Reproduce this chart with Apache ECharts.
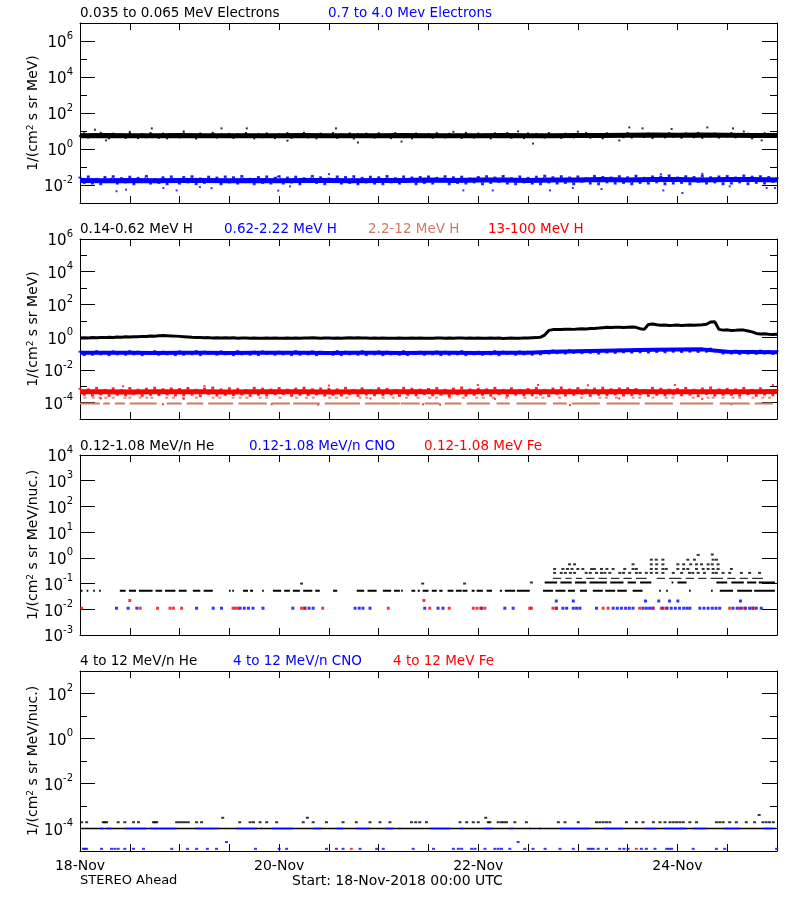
<!DOCTYPE html>
<html><head><meta charset="utf-8">
<script src="https://cdn.jsdelivr.net/npm/echarts@6/dist/echarts.min.js"></script>
<style>html,body{margin:0;padding:0;background:#fff}#c{width:800px;height:900px}</style>
</head><body><div id="c"></div>
<script>
const FONT = 'DejaVu Sans';
const BLACK = '#000000', BLUE = '#0000ff', RED = '#ff0000', BROWN = '#cd7b64';

const xLabelHours = [0, 48, 96, 144];
const xLabels = ['18-Nov', '20-Nov', '22-Nov', '24-Nov'];

// band cores, one value every 6 hours
const elecLowCore = [5.5,5.6,5.4,5.5,5.6,5.5,5.4,5.5,5.5,5.6,5.4,5.5,5.5,5.6,5.5,5.4,5.5,5.6,5.5,5.5,5.6,5.7,5.8,5.9,5.8,5.9,5.8,5.7,5.6];
const elecHighCore = [0.018,0.017,0.018,0.017,0.018,0.018,0.017,0.018,0.017,0.018,0.018,0.017,0.018,0.018,0.019,0.018,0.019,0.019,0.018,0.019,0.019,0.02,0.019,0.02,0.02,0.019,0.02,0.02,0.019];
const hMidCore = [0.11,0.11,0.112,0.108,0.11,0.11,0.108,0.11,0.112,0.11,0.108,0.11,0.11,0.108,0.11,0.11,0.108,0.11,0.112,0.13,0.14,0.15,0.16,0.17,0.175,0.18,0.13,0.125,0.12];
const hHighCore = [4.6e-4,4.7e-4,4.5e-4,4.6e-4,4.7e-4,4.6e-4,4.5e-4,4.6e-4,4.7e-4,4.6e-4,4.5e-4,4.6e-4,4.6e-4,4.7e-4,4.6e-4,4.5e-4,4.6e-4,4.7e-4,4.6e-4,4.6e-4,4.7e-4,4.6e-4,4.8e-4,4.7e-4,4.6e-4,4.7e-4,4.6e-4,4.7e-4,4.8e-4];

// hourly spread samples
const elecLow = [
 5.2,7.4,4.3,6.8,4.6,7.9,5.0,3.9,7.1,4.8,6.5,4.1,
 7.6,5.3,4.0,6.9,4.5,7.8,5.6,4.2,7.2,3.9,6.6,5.1,
 4.4,7.5,4.9,6.1,3.8,7.3,5.4,4.6,7.9,4.3,6.4,5.0,
 7.0,4.1,6.7,4.7,7.7,5.5,3.9,6.9,4.5,7.4,5.2,4.0,
 6.8,4.8,7.6,4.2,6.3,5.1,7.9,4.4,6.0,3.9,7.2,5.3,
 4.6,7.8,4.1,6.6,5.0,7.4,3.8,6.9,4.7,7.1,5.6,4.3,
 7.5,4.9,6.2,4.0,7.7,5.4,4.5,6.8,3.9,7.3,5.0,4.6,
 6.9,4.2,7.6,5.2,4.4,7.0,4.8,6.5,4.1,7.9,5.5,4.3,
 7.2,4.7,6.4,3.9,7.5,5.1,4.6,7.8,4.2,6.7,5.3,4.0,
 7.4,4.5,6.9,5.0,4.3,7.7,4.8,6.2,4.1,7.1,5.6,4.4,
 6.6,4.9,7.9,4.2,6.8,5.2,3.9,7.5,4.7,6.3,5.4,4.5,
 7.8,4.3,6.7,5.1,4.6,7.2,4.0,6.9,5.5,4.4,7.6,4.8,
 6.1,4.2,7.4,5.3,4.5,7.9,4.1,6.6,5.0,7.3,4.3,6.8,
 4.9,7.7,4.4,6.4,5.2,7.0,3.9,6.9,4.6,7.5,4.8,6.2,
 5.1];
const elecLowOut = [[3.6,11.8],[6.3,3.0],[12,9],[17.3,14],[25,9.5],[34.1,14],[40.2,14],[50,2.9],[61.7,14],[67,2.3],[77.5,2.6],[90,9],[105.6,9.5],[109.2,2.0],[120,9.2],[130,3.0],[132.4,15.8],[135.6,14],[142.6,13],[151.2,15.8],[157.4,14],[160,9.4],[164.3,3.0]];
const elecHigh = [
 0.026,0.013,0.030,0.012,0.022,0.011,0.028,0.015,0.031,0.012,0.024,0.014,
 0.029,0.011,0.025,0.016,0.032,0.012,0.021,0.013,0.027,0.011,0.030,0.015,
 0.012,0.028,0.014,0.031,0.011,0.023,0.013,0.029,0.016,0.026,0.011,0.030,
 0.014,0.027,0.012,0.032,0.015,0.022,0.011,0.028,0.013,0.030,0.012,0.025,
 0.031,0.012,0.026,0.014,0.029,0.011,0.024,0.016,0.032,0.013,0.027,0.011,
 0.023,0.015,0.030,0.012,0.028,0.013,0.031,0.011,0.025,0.014,0.029,0.012,
 0.027,0.011,0.032,0.014,0.024,0.012,0.030,0.015,0.026,0.011,0.028,0.013,
 0.030,0.012,0.025,0.016,0.031,0.011,0.027,0.013,0.029,0.012,0.023,0.014,
 0.028,0.011,0.031,0.013,0.026,0.015,0.032,0.012,0.024,0.011,0.030,0.014,
 0.025,0.012,0.029,0.011,0.033,0.014,0.027,0.012,0.031,0.013,0.026,0.011,
 0.030,0.015,0.024,0.012,0.032,0.011,0.028,0.014,0.026,0.012,0.031,0.013,
 0.027,0.011,0.033,0.013,0.025,0.012,0.030,0.014,0.029,0.011,0.034,0.012,
 0.026,0.013,0.031,0.011,0.028,0.015,0.033,0.012,0.027,0.014,0.030,0.011,
 0.032,0.012,0.026,0.014,0.034,0.011,0.029,0.013,0.031,0.012,0.028,0.015,
 0.024];
const elecHighOut = [[8.8,0.0045],[11.1,0.0055],[20.1,0.0068],[23.3,0.005],[28.9,0.0078],[31.7,0.0066],[47.8,0.0049],[50.6,0.0084],[60,0.04],[92.4,0.005],[99.5,0.005],[113.3,0.005],[118.8,0.0068],[125.7,0.006],[140,0.04],[140.6,0.005],[145.2,0.0036],[150,0.042],[156.6,0.0084],[165.5,0.0068],[167.5,0.0068]];

const hLow = [
 0.90,0.93,0.89,0.95,0.92,0.97,0.94,0.99,0.96,1.02,0.98,1.05,
 1.03,1.08,1.06,1.12,1.10,1.18,1.15,1.22,1.28,1.24,1.20,1.16,
 1.12,1.08,1.04,1.00,0.97,0.95,0.92,0.94,0.90,0.92,0.89,0.91,
 0.88,0.91,0.87,0.90,0.88,0.86,0.89,0.87,0.85,0.88,0.86,0.89,
 0.87,0.85,0.88,0.86,0.89,0.87,0.90,0.88,0.91,0.89,0.87,0.90,
 0.88,0.86,0.89,0.87,0.90,0.92,0.89,0.91,0.88,0.90,0.87,0.89,
 0.86,0.88,0.85,0.87,0.86,0.88,0.85,0.87,0.89,0.86,0.88,0.85,
 0.87,0.85,0.88,0.90,0.87,0.89,0.86,0.88,0.90,0.87,0.89,0.86,
 0.88,0.85,0.87,0.89,0.86,0.88,0.84,0.86,0.88,0.85,0.87,0.89,
 0.90,0.92,0.94,1.00,1.35,2.60,2.90,3.00,2.95,3.05,3.10,3.00,
 3.15,3.25,3.20,3.35,3.45,3.60,3.80,4.00,3.95,4.05,4.10,3.95,
 4.05,4.15,4.00,3.30,3.00,6.00,6.40,5.80,5.40,5.60,5.20,5.30,
 5.50,5.20,5.40,5.60,5.30,5.50,5.70,6.20,8.50,8.80,3.00,2.70,
 2.80,2.60,2.65,2.75,2.70,2.40,2.10,1.70,1.55,1.60,1.50,1.45,
 1.50];
const hMid = [
 0.13,0.08,0.12,0.085,0.14,0.09,0.125,0.08,0.135,0.09,0.12,0.085,
 0.14,0.09,0.13,0.08,0.125,0.095,0.14,0.085,0.13,0.09,0.12,0.08,
 0.135,0.085,0.12,0.09,0.14,0.08,0.13,0.095,0.12,0.085,0.135,0.09,
 0.125,0.08,0.14,0.09,0.12,0.085,0.13,0.08,0.135,0.095,0.12,0.085,
 0.13,0.09,0.125,0.08,0.14,0.085,0.12,0.09,0.135,0.08,0.13,0.095,
 0.12,0.085,0.14,0.08,0.13,0.09,0.125,0.085,0.14,0.08,0.12,0.09,
 0.135,0.08,0.13,0.09,0.12,0.085,0.14,0.08,0.125,0.095,0.13,0.085,
 0.12,0.09,0.135,0.08,0.13,0.085,0.12,0.09,0.14,0.08,0.125,0.09,
 0.13,0.085,0.12,0.09,0.14,0.08,0.13,0.095,0.125,0.085,0.135,0.09,
 0.13,0.085,0.125,0.09,0.14,0.10,0.155,0.105,0.145,0.10,0.16,0.11,
 0.15,0.105,0.16,0.11,0.155,0.10,0.165,0.115,0.16,0.11,0.17,0.12,
 0.165,0.115,0.175,0.12,0.17,0.115,0.18,0.125,0.175,0.12,0.185,0.13,
 0.18,0.125,0.19,0.13,0.185,0.125,0.19,0.13,0.20,0.135,0.15,0.10,
 0.145,0.10,0.15,0.095,0.14,0.10,0.145,0.095,0.15,0.10,0.14,0.095,
 0.14];
const hHigh = [
 7e-4,3e-4,6.5e-4,2.7e-4,8e-4,3.3e-4,6e-4,2.6e-4,7.5e-4,3.1e-4,5.8e-4,2.8e-4,
 7.8e-4,3.4e-4,6.2e-4,2.6e-4,7.2e-4,3e-4,8.2e-4,2.9e-4,6.6e-4,3.2e-4,7.4e-4,2.7e-4,
 6.8e-4,2.8e-4,7.9e-4,3.1e-4,6.1e-4,2.5e-4,7.3e-4,3.4e-4,8.4e-4,2.7e-4,6.4e-4,3e-4,
 7.6e-4,2.9e-4,6.9e-4,3.2e-4,5.9e-4,2.6e-4,8.1e-4,3e-4,7.1e-4,2.8e-4,6.3e-4,3.3e-4,
 7.8e-4,3.4e-4,6.2e-4,2.6e-4,7.2e-4,3e-4,8.2e-4,2.9e-4,6.6e-4,3.2e-4,7.4e-4,2.7e-4,
 7e-4,3e-4,6.5e-4,2.7e-4,8e-4,3.3e-4,6e-4,2.6e-4,7.5e-4,3.1e-4,5.8e-4,2.8e-4,
 7.6e-4,2.9e-4,6.9e-4,3.2e-4,5.9e-4,2.6e-4,8.1e-4,3e-4,7.1e-4,2.8e-4,6.3e-4,3.3e-4,
 6.8e-4,2.8e-4,7.9e-4,3.1e-4,6.1e-4,2.5e-4,7.3e-4,3.4e-4,8.4e-4,2.7e-4,6.4e-4,3e-4,
 7e-4,3e-4,6.5e-4,2.7e-4,8e-4,3.3e-4,6e-4,2.6e-4,7.5e-4,3.1e-4,5.8e-4,2.8e-4,
 6.8e-4,2.8e-4,7.9e-4,3.1e-4,6.1e-4,2.5e-4,7.3e-4,3.4e-4,8.4e-4,2.7e-4,6.4e-4,3e-4,
 7.8e-4,3.4e-4,6.2e-4,2.6e-4,7.2e-4,3e-4,8.2e-4,2.9e-4,6.6e-4,3.2e-4,7.4e-4,2.7e-4,
 7.6e-4,2.9e-4,6.9e-4,3.2e-4,5.9e-4,2.6e-4,8.1e-4,3e-4,7.1e-4,2.8e-4,6.3e-4,3.3e-4,
 6.8e-4,2.8e-4,7.9e-4,3.1e-4,6.1e-4,2.5e-4,7.3e-4,3.4e-4,8.4e-4,2.7e-4,6.4e-4,3e-4,
 7e-4,3e-4,6.5e-4,2.7e-4,8e-4,3.3e-4,6e-4,2.6e-4,7.5e-4,3.1e-4,5.8e-4,2.8e-4,
 6e-4];
const hHighOut = [[5,1.8e-4],[10.4,1.0e-3],[20,8e-5],[25,1.7e-4],[30,1.05e-3],[46.2,8e-5],[57.4,7.5e-5],[60,1.1e-3],[70,1.8e-4],[82.7,8e-5],[86.8,7.5e-5],[95.9,1.2e-3],[100,1.7e-4],[110.4,1.2e-3],[118.1,7e-5],[122.4,1.15e-3],[130,1.8e-4],[143.4,1.2e-3],[150,1.7e-4],[157,8e-5],[167,1.2e-3]];
const hMidHiLevel = 9e-5;
const hMidHiRuns = [[0,4.8],[5.6,7.2],[8.4,10.8],[12,18.5],[20.9,24.5],[25.7,29.7],[30.9,36.9],[38.2,45],[46.2,50.6],[51.4,57.8],[59,67.5],[68.7,77.1],[77.3,81.9],[83.1,86.7],[87.9,91.9],[93.2,98.8],[100.4,103.6],[105.2,112.4],[114,117.3],[118.5,125.3],[126.9,134.9],[136.1,142.9],[144.6,152.6],[154.2,161.4],[162.6,167]];
const hMidHiPts = [[1.2,2e-4],[3.2,2e-4],[4.8,2e-4],[6.2,2e-4],[8,2e-4],[10.8,2e-4],[12,2e-4],[14.5,2e-4],[16.1,2e-4],[17.3,2e-4],[20.9,2e-4],[22.5,2e-4],[24.9,2e-4],[28.1,2e-4],[32.1,2e-4],[33.7,2e-4],[36.9,2e-4],[38.6,2e-4],[40.2,2e-4],[43.4,2e-4],[45,2e-4],[48.2,2e-4],[52.2,2e-4],[54.6,2e-4],[56.2,2e-4],[60.2,2e-4],[61.8,2e-4],[64.3,2e-4],[67.5,2e-4],[69.1,2e-4],[73.1,2e-4],[75.5,2e-4],[78.7,2e-4],[81.5,2e-4],[84.3,2e-4],[85.9,2e-4],[89.1,2e-4],[92.4,2e-4],[95.6,2e-4],[97.2,2e-4],[99.6,2e-4],[102.8,2e-4],[107.2,2e-4],[110,2e-4],[111.6,2e-4],[115.6,2e-4],[120.9,2e-4],[125.3,2e-4],[126.9,2e-4],[129.3,2e-4],[133.3,2e-4],[134.9,2e-4],[138.1,2e-4],[141.3,2e-4],[142.9,2e-4],[147.8,2e-4],[151.4,2e-4],[152.6,2e-4],[155,2e-4],[157.4,2e-4],[159,2e-4],[162.2,2e-4],[164.6,2e-4],[166.2,2e-4]];

const heLoBaseLevel = 0.053;
const heLoBaseRuns = [[0.2,0.6],[1.6,2.0],[3.2,3.6],[4.6,5.0],[9.6,11],[11.8,13.5],[14.2,17.5],[18.2,19.8],[20.5,23],[23.8,25.7],[27.2,29],[29.8,32],[35.9,36.3],[36.7,37.1],[39.3,40.5],[41,41.7],[43.9,44.3],[46.5,48.5],[49.2,50.6],[51.3,53],[53.8,56],[56.7,57.8],[61,62],[66.7,68.5],[69.3,71.5],[73,75],[75.7,77.1],[77.4,77.8],[79.9,80.8],[81.4,81.9],[82.6,84],[84.8,86],[86.6,87.4],[88.6,90],[90.6,92],[92.2,93.4],[94.4,95.1],[95.6,97.1],[98,99.3],[101.2,101.7],[102.4,104.9],[105.3,108.4],[111.6,114],[114.6,117],[117.6,119.3],[120.5,122.2],[123.6,126],[126.6,129],[129.5,131.8],[133.2,135.6],[139.6,140],[141.3,141.7],[146.8,147.2],[152.1,152.5],[154.2,157.4],[158.4,162],[162.5,167.5]];
const heLoRow2Level = 0.11;
const heLoRow2Runs = [[112,115],[115.8,118.5],[119.3,122],[122.8,127],[127.8,131],[132,134],[135,137.7],[142.6,143],[144,146.2],[153.4,156],[157,160],[160.8,163],[163.6,167.5]];
const heLoRow3Level = 0.16;
const heLoRow3Runs = [[114,116],[117,118.5],[119.5,121],[122,124],[125,127],[128,130],[131,133],[134,136.6],[139,141],[142,145],[146,148],[149,151],[152,155],[156,158],[159,161],[162,164.6]];
const heLoPts = [[53.4,0.1],[82.6,0.1],[92.7,0.1],[108.8,0.11],
 [114.4,0.26],[116,0.26],[117,0.26],[118.2,0.26],[119.2,0.26],[122,0.26],[123,0.26],[124.5,0.26],[125.7,0.26],[126.5,0.26],[127.7,0.26],[130.1,0.26],[131,0.26],[132.5,0.26],[134.1,0.26],[135,0.26],[136.5,0.26],[137.7,0.26],[139,0.26],[140.5,0.26],[143,0.26],[145,0.26],[146.9,0.26],[147.7,0.26],[149,0.26],[150.5,0.26],[152.6,0.26],[153.4,0.26],[155,0.26],[156.6,0.26],[159.4,0.26],[161.4,0.26],[163.8,0.26],
 [114.4,0.37],[116.4,0.37],[117.5,0.37],[118.6,0.37],[120,0.37],[121.2,0.37],[123.3,0.37],[124,0.37],[125.7,0.37],[127,0.37],[128.5,0.37],[131.3,0.37],[133.3,0.37],[134.1,0.37],[137.7,0.37],[138.9,0.37],[140.5,0.37],[141.3,0.37],[144.1,0.37],[145.5,0.37],[146.5,0.37],[148.6,0.37],[150.2,0.37],[151.4,0.37],[152.6,0.37],[153.8,0.37],[157,0.37],
 [118,0.56],[119.2,0.56],[133.3,0.56],[137.7,0.56],[139,0.56],[140.5,0.56],[144.1,0.56],[145.5,0.56],[147.2,0.56],[148.6,0.56],[149.8,0.56],[151.4,0.56],[152.4,0.56],[153.8,0.56],
 [137.7,0.85],[138.9,0.85],[140.5,0.85],[146.5,0.85],[148.1,0.85],[152.6,0.85],[153.4,0.85],[149,1.3],[152.4,1.35]];
const cnoLoPts = [[8.8,0.011],[11.6,0.011],[13.7,0.011],[28.1,0.011],[32.1,0.011],[34.1,0.011],[38.6,0.011],[39.6,0.011],[40.6,0.011],[41.7,0.011],[44.1,0.011],[51.3,0.011],[54.2,0.011],[55.2,0.011],[56.2,0.011],[66.3,0.011],[67.3,0.011],[68.2,0.011],[69.9,0.011],[83.1,0.011],[86.3,0.011],[87.5,0.011],[96.8,0.011],[102.4,0.011],[104.4,0.011],[114.8,0.011],[116.4,0.011],[117.3,0.011],[118.9,0.011],[119.7,0.011],[120.5,0.011],[124.5,0.011],[128.5,0.011],[129.5,0.011],[130.5,0.011],[131.5,0.011],[132.4,0.011],[133.3,0.011],[135.7,0.011],[136.5,0.011],[137.3,0.011],[138.1,0.011],[140.5,0.011],[141.5,0.011],[142.5,0.011],[143.5,0.011],[144.5,0.011],[145.5,0.011],[146.3,0.011],[147,0.011],[149.4,0.011],[150.4,0.011],[151.4,0.011],[152.4,0.011],[153.3,0.011],[154.2,0.011],[157.4,0.011],[158.4,0.011],[159.4,0.011],[160.4,0.011],[161.4,0.011],[162.2,0.011],[163,0.011],[164.2,0.011],
 [114.8,0.021],[118.9,0.021],[136.3,0.021],[139.5,0.021],[142.1,0.021],[144.1,0.021],[159.2,0.021]];
const feLoPts = [[0.4,0.011],[14.5,0.011],[18.7,0.011],[21.7,0.011],[22.5,0.011],[24.5,0.011],[36.9,0.011],[37.5,0.011],[38.2,0.011],[53.4,0.011],[54.2,0.011],[58.5,0.011],[74.3,0.011],[84.3,0.011],[89,0.011],[94.8,0.011],[95.7,0.011],[96.6,0.011],[97.6,0.011],[108.4,0.011],[108.8,0.011],[114,0.011],[114.8,0.011],[126.1,0.011],[127.3,0.011],[134.9,0.011],[138.1,0.011],[140.1,0.011],[141.3,0.011],[156.6,0.011],[159,0.011],[160.2,0.011],[162.2,0.011],
 [12,0.022],[82.9,0.022]];

const heHiLineLevel = 1e-4;
const heHiLineRuns = [[0.3,167.8]];
const cnoHiLineRuns = [[4.8,5.6],[6.4,7.6],[10.8,16.1],[16.9,23.3],[27.7,33.3],[37.7,42.6],[43.6,44],[46.2,51.4],[56.2,58.2],[61.8,63.4],[66.6,69.9],[73.5,75.5],[76.9,77.3],[84.4,89.2],[91.6,92.4],[97.2,99.6],[103.6,104.4],[108.2,108.6],[110.7,111.1],[115.7,122.9],[126.1,130.9],[136.1,139],[140.6,146.2],[147.8,151],[155,159],[164.6,167.1]];
const heHiPts = [[0.4,1.9e-4],[1.6,1.9e-4],[5.6,1.9e-4],[6.0,1.9e-4],[6.4,1.9e-4],[9.2,1.9e-4],[10.8,1.9e-4],[12.9,1.9e-4],[14.1,1.9e-4],[17.7,1.9e-4],[18.1,1.9e-4],[18.5,1.9e-4],[23.3,1.9e-4],[24,1.9e-4],[24.7,1.9e-4],[25.4,1.9e-4],[26.1,1.9e-4],[28.1,1.9e-4],[29.3,1.9e-4],[38.5,1.9e-4],[41,1.9e-4],[41.8,1.9e-4],[43.4,1.9e-4],[45,1.9e-4],[47.4,1.9e-4],[53.8,1.9e-4],[56.2,1.9e-4],[59.4,1.9e-4],[63.4,1.9e-4],[66.6,1.9e-4],[69.9,1.9e-4],[72.3,1.9e-4],[74.7,1.9e-4],[79.9,1.9e-4],[80.9,1.9e-4],[81.9,1.9e-4],[83.5,1.9e-4],[91.6,1.9e-4],[93.2,1.9e-4],[94.8,1.9e-4],[96,1.9e-4],[98.4,1.9e-4],[98.8,1.9e-4],[100.8,1.9e-4],[101.6,1.9e-4],[102.2,1.9e-4],[102.8,1.9e-4],[104.8,1.9e-4],[107.6,1.9e-4],[115.3,1.9e-4],[116.9,1.9e-4],[120.1,1.9e-4],[124.5,1.9e-4],[125.3,1.9e-4],[126.1,1.9e-4],[126.9,1.9e-4],[127.7,1.9e-4],[131.7,1.9e-4],[134.1,1.9e-4],[135.7,1.9e-4],[138.2,1.9e-4],[139.8,1.9e-4],[141,1.9e-4],[142.2,1.9e-4],[143,1.9e-4],[143.8,1.9e-4],[144.6,1.9e-4],[145.4,1.9e-4],[147,1.9e-4],[148.6,1.9e-4],[153.4,1.9e-4],[154.2,1.9e-4],[155,1.9e-4],[156.6,1.9e-4],[158.2,1.9e-4],[160.6,1.9e-4],[162.6,1.9e-4],[164.6,1.9e-4],[165.4,1.9e-4],[166.2,1.9e-4],[167.1,1.9e-4],
 [34.4,3e-4],[54.8,3e-4],[97.8,3e-4],[163.7,4e-4]];
const cnoHiPts = [[0.8,1.25e-5],[1.2,1.25e-5],[1.6,1.25e-5],[5.2,1.25e-5],[7.6,1.25e-5],[8.4,1.25e-5],[9.2,1.25e-5],[10.8,1.25e-5],[12.9,1.25e-5],[15.3,1.25e-5],[22.1,1.25e-5],[25.9,1.25e-5],[28.1,1.25e-5],[30.7,1.25e-5],[32.9,1.25e-5],[42.3,1.25e-5],[48,1.25e-5],[49.8,1.25e-5],[59.4,1.25e-5],[61.8,1.25e-5],[63.4,1.25e-5],[67.5,1.25e-5],[71.5,1.25e-5],[73.1,1.25e-5],[80.3,1.25e-5],[85.2,1.25e-5],[90,1.25e-5],[91.2,1.25e-5],[92,1.25e-5],[94.4,1.25e-5],[95.2,1.25e-5],[97.6,1.25e-5],[100,1.25e-5],[100.8,1.25e-5],[101.6,1.25e-5],[103.6,1.25e-5],[107.2,1.25e-5],[109.2,1.25e-5],[112.1,1.25e-5],[115.7,1.25e-5],[118.9,1.25e-5],[122.5,1.25e-5],[123.1,1.25e-5],[123.7,1.25e-5],[124.9,1.25e-5],[126.9,1.25e-5],[130.1,1.25e-5],[131.1,1.25e-5],[132.1,1.25e-5],[135.3,1.25e-5],[136.5,1.25e-5],[138.6,1.25e-5],[141.4,1.25e-5],[142,1.25e-5],[142.6,1.25e-5],[147.8,1.25e-5],[153.4,1.25e-5],[155.4,1.25e-5],[167.9,1.25e-5],
 [35.3,2.5e-5],[105.6,2.5e-5]];
const feHiPts = [[65.4,1.25e-5],[134.1,1.25e-5]];

const panelTops = [23, 239, 455, 671];
const panelMin = [1e-3, 1e-5, 1e-3, 1e-5];
const panelMax = [1e7, 1e6, 1e4, 1e3];
const panelExp = [
  ['-3','-2','-1','0','1','2','3','4','5','6','7'],
  ['-5','-4','-3','-2','-1','0','1','2','3','4','5','6'],
  ['-3','-2','-1','0','1','2','3','4'],
  ['-5','-4','-3','-2','-1','0','1','2','3']];
const panelMajor = [
  ['-2','0','2','4','6'],
  ['-4','-2','0','2','4','6'],
  ['-3','-2','-1','0','1','2','3','4'],
  ['-4','-2','0','2']];
const panelYName = ['1/(cm{s|2} s sr MeV)','1/(cm{s|2} s sr MeV)','1/(cm{s|2} s sr MeV/nuc.)','1/(cm{s|2} s sr MeV/nuc.)'];
const titles = [
  [[80,'0.035 to 0.065 MeV Electrons',BLACK],[328,'0.7 to 4.0 Mev Electrons',BLUE]],
  [[80,'0.14-0.62 MeV H',BLACK],[224,'0.62-2.22 MeV H',BLUE],[368,'2.2-12 MeV H',BROWN],[488,'13-100 MeV H',RED]],
  [[80,'0.12-1.08 MeV/n He',BLACK],[249,'0.12-1.08 MeV/n CNO',BLUE],[424,'0.12-1.08 MeV Fe',RED]],
  [[80,'4 to 12 MeV/n He',BLACK],[233,'4 to 12 MeV/n CNO',BLUE],[393,'4 to 12 MeV Fe',RED]]];
const titleY = [13, 229, 446, 661];

const grids = [], xAxes = [], yAxes = [], series = [], graphics = [];
const mkLine = (show) => ({show: show, onZero: false, lineStyle: {color: '#000', width: 1}});
const mkTick = (len, fn) => { const t = {show: true, inside: true, length: len, lineStyle: {color: '#000', width: 1}}; if (fn) t.interval = fn; return t; };

panelTops.forEach((top, i) => {
  grids.push({left: 80, width: 697, top: top, height: 180});
  xAxes.push({type: 'value', gridIndex: i, min: 0, max: 168, interval: 12, position: 'bottom',
    splitLine: {show: false}, axisLine: mkLine(true), axisTick: mkTick(7),
    axisLabel: {show: i === 3, margin: 8, color: '#000', fontFamily: FONT, fontSize: 14,
      formatter: v => { const k = xLabelHours.indexOf(v); return k >= 0 ? xLabels[k] : ''; }}});
  xAxes.push({type: 'value', gridIndex: i, min: 0, max: 168, interval: 12, position: 'top',
    splitLine: {show: false}, axisLine: mkLine(true), axisTick: mkTick(7), axisLabel: {show: false}});
  const exps = panelExp[i], major = panelMajor[i];
  const isMajor = (idx) => major.indexOf(exps[idx]) >= 0;
  const isMinor = (idx) => major.indexOf(exps[idx]) < 0;
  yAxes.push({type: 'log', logBase: 10, gridIndex: i, min: panelMin[i], max: panelMax[i],
    axisLine: {show: false}, axisTick: {show: false}, axisLabel: {show: false}, splitLine: {show: false}});
  yAxes.push({type: 'category', gridIndex: i, data: exps.slice(), boundaryGap: false, position: 'left',
    splitLine: {show: false}, axisLine: mkLine(true), axisTick: mkTick(15, isMajor),
    axisLabel: {show: true, interval: isMajor, margin: 7, formatter: v => '{b|10}{s|' + v + '}',
      rich: {b: {fontSize: 15, fontFamily: FONT, color: '#000', padding: [5,0,0,0], verticalAlign: 'bottom'},
             s: {fontSize: 10, fontFamily: FONT, color: '#000', verticalAlign: 'top'}}},
    name: panelYName[i], nameLocation: 'middle', nameRotate: 90, nameGap: 40, nameMoveOverlap: false,
    nameTextStyle: {fontSize: 14, fontFamily: FONT, color: '#000',
      rich: {s: {fontSize: 9, fontFamily: FONT, color: '#000', verticalAlign: 'top'}}}});
  yAxes.push({type: 'category', gridIndex: i, data: exps.slice(), boundaryGap: false, position: 'left',
    splitLine: {show: false}, axisLine: mkLine(false), axisTick: mkTick(7, isMinor), axisLabel: {show: false}});
  yAxes.push({type: 'category', gridIndex: i, data: exps.slice(), boundaryGap: false, position: 'right',
    splitLine: {show: false}, axisLine: mkLine(true), axisTick: mkTick(15, isMajor), axisLabel: {show: false}});
  yAxes.push({type: 'category', gridIndex: i, data: exps.slice(), boundaryGap: false, position: 'right',
    splitLine: {show: false}, axisLine: mkLine(false), axisTick: mkTick(7, isMinor), axisLabel: {show: false}});
  titles[i].forEach(t => graphics.push({type: 'text', x: t[0], y: titleY[i],
    style: {text: t[1], fill: t[2], font: '13.5px "DejaVu Sans"', verticalAlign: 'middle'}}));
});
graphics.push({type: 'text', x: 80, y: 881, style: {text: 'STEREO Ahead', fill: '#000', font: '13px "DejaVu Sans"', verticalAlign: 'middle'}});
graphics.push({type: 'text', x: 292, y: 881, style: {text: 'Start: 18-Nov-2018 00:00 UTC', fill: '#000', font: '14px "DejaVu Sans"', verticalAlign: 'middle'}});

const hourly = arr => arr.map((v, h) => [h, v]);
const sixHourly = arr => arr.map((v, k) => [6 * k, v]);
const runs = (list, level) => { const d = []; list.forEach(r => { d.push([r[0], level], [r[1], level], [r[1], null]); }); return d; };
function addLine(g, data, color, width) {
  series.push({type: 'line', xAxisIndex: 2*g, yAxisIndex: 5*g, data: data, symbol: 'none', showSymbol: false,
    connectNulls: false, silent: true, animation: false, lineStyle: {color: color, width: width}});
}
function addPts(g, data, color, size) {
  series.push({type: 'scatter', xAxisIndex: 2*g, yAxisIndex: 5*g, data: data, symbol: 'rect', symbolSize: size,
    silent: true, animation: false, itemStyle: {color: color}});
}
// panel 1
addLine(0, sixHourly(elecLowCore), BLACK, 5);
addLine(0, hourly(elecLow), BLACK, 1);
addPts(0, hourly(elecLow), BLACK, [2,2]);
addPts(0, elecLowOut, BLACK, [2,2]);
addLine(0, sixHourly(elecHighCore), BLUE, 5);
addLine(0, hourly(elecHigh), BLUE, 1);
addPts(0, hourly(elecHigh), BLUE, [3,2]);
addPts(0, elecHighOut, BLUE, [2,2]);
// panel 2
addLine(1, runs(hMidHiRuns, hMidHiLevel), BROWN, 2);
addPts(1, hMidHiPts, BROWN, [3,2]);
addLine(1, sixHourly(hHighCore), RED, 5);
addLine(1, hourly(hHigh), RED, 1);
addPts(1, hourly(hHigh), RED, [3,2]);
addPts(1, hHighOut, RED, [2,2]);
addLine(1, sixHourly(hMidCore), BLUE, 4);
addLine(1, hourly(hMid), BLUE, 1);
addPts(1, hourly(hMid), BLUE, [3,2]);
addLine(1, hourly(hLow), BLACK, 3);
// panel 3
addLine(2, runs(heLoBaseRuns, heLoBaseLevel), BLACK, 2);
addLine(2, runs(heLoRow2Runs, heLoRow2Level), BLACK, 2);
addLine(2, runs(heLoRow3Runs, heLoRow3Level), BLACK, 1);
addPts(2, heLoPts, BLACK, [3,2]);
addPts(2, cnoLoPts, BLUE, [3,3]);
addPts(2, feLoPts, RED, [3,3]);
// panel 4
addLine(3, runs(heHiLineRuns, heHiLineLevel), BLACK, 1.5);
addLine(3, runs(cnoHiLineRuns, heHiLineLevel), BLUE, 1.5);
addPts(3, heHiPts, BLACK, [3,2]);
addPts(3, cnoHiPts, BLUE, [3,2]);
addPts(3, feHiPts, RED, [3,2]);

const chart = echarts.init(document.getElementById('c'), null, {renderer: 'canvas'});
chart.setOption({backgroundColor: '#fff', animation: false, grid: grids, xAxis: xAxes, yAxis: yAxes, series: series, graphic: graphics});
</script>
</body></html>
